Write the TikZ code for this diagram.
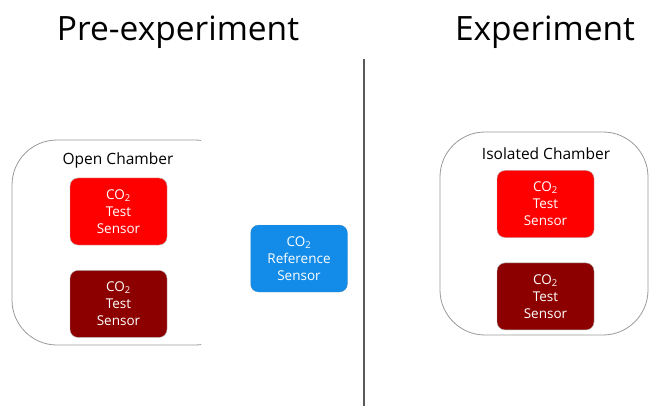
\documentclass[tikz,border=0pt]{standalone}
\usepackage{fontspec}
\setmainfont{Open Sans}
\usetikzlibrary{positioning}
\definecolor{testred}{RGB}{255,0,0}
\definecolor{darkred}{RGB}{140,0,0}
\definecolor{refblue}{RGB}{18,140,232}
\tikzset{node distance=25pt,
  sensor/.style={rounded corners=8pt, minimum width=97pt, minimum height=67pt,
    text=white, align=center, font=\fontsize{13.5}{17}\selectfont, inner sep=0pt},
  title/.style={font=\fontsize{33.5}{38}\selectfont, anchor=base},
  chamber/.style={draw=gray!80, line width=0.8pt, rounded corners=45pt}}
\newcommand{\cotwo}{CO\textsubscript{2}}

\begin{document}
\begin{tikzpicture}[x=1pt, y=-1pt]
  \useasboundingbox (0,0) rectangle (650,406);

  \node[title] (pre) at (178,41) {Pre-experiment};
  \node[title] (exp) at (545,41) {Experiment};

  \coordinate (divtop) at (364,59);
  \coordinate (divbot) at (364,406);
  \draw[line width=1.2pt, black!65] (divtop) -- (divbot);

  % open chamber, cut on its right side
  \begin{scope}
    \clip (0,0) rectangle (201,406);
    \draw[chamber] (12,140) rectangle (240,345);
  \end{scope}
  \node[font=\fontsize{15.5}{18}\selectfont] (openlbl) at (118,160) {Open Chamber};
  \node[sensor, fill=testred, draw=gray!60, line width=0.4pt] (openA) at (118.5,211.5) {\cotwo\\Test\\Sensor};
  \node[sensor, fill=darkred, draw=gray!60, line width=0.4pt, below=25pt of openA] (openB) {\cotwo\\Test\\Sensor};

  \node[sensor, fill=refblue, draw=gray, densely dotted, line width=0.4pt] (ref) at (299,258.5) {\cotwo\\Reference\\Sensor};

  % isolated chamber
  \draw[chamber] (440,132) rectangle (648,335);
  \node[font=\fontsize{15.5}{18}\selectfont] (isolbl) at (546,154) {Isolated Chamber};
  \node[sensor, fill=testred, draw=gray!60, line width=0.4pt] (isoA) at (545.5,204) {\cotwo\\Test\\Sensor};
  \node[sensor, fill=darkred, draw=gray!60, line width=0.4pt, below=25pt of isoA] (isoB) {\cotwo\\Test\\Sensor};

\end{tikzpicture}
\end{document}
